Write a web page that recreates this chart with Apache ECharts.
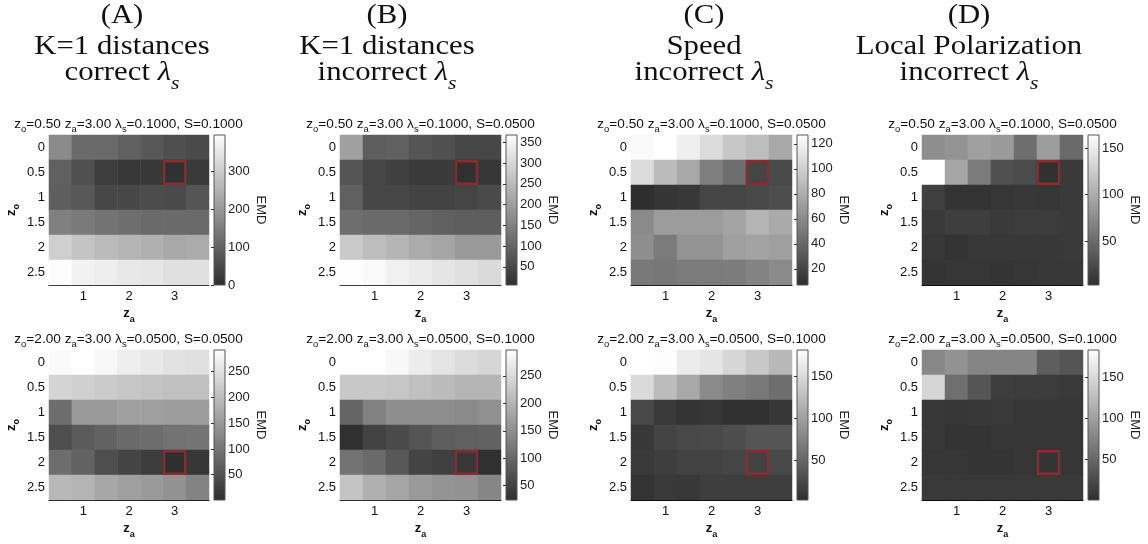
<!DOCTYPE html>
<html>
<head>
<meta charset="utf-8">
<script src="https://cdn.jsdelivr.net/npm/echarts@6/dist/echarts.min.js"></script>
<style>
  html, body { margin: 0; padding: 0; background: #ffffff; }
  #chart { width: 1148px; height: 544px; }
</style>
</head>
<body>
<div id="chart"></div>
<script>
// ---- axes of every EMD map ----
const zaValues = ['0.5', '1', '1.5', '2', '2.5', '3', '3.5'];   // columns
const zoValues = ['0', '0.5', '1', '1.5', '2', '2.5'];          // rows (top to bottom)

// ---- column headings ----
const headLetters = ['(A)', '(B)', '(C)', '(D)'];
const headNames = ['K=1 distances', 'K=1 distances', 'Speed', 'Local Polarization'];
const headLambda = ['correct', 'incorrect', 'incorrect', 'incorrect'];

// ---- true parameters of each row of maps ----
const zoTrue = ['0.50', '2.00'];
const zaTrue = '3.00';
const lambdaTop = ['0.1000', '0.1000', '0.1000', '0.1000'];
const sTop = ['0.1000', '0.0500', '0.0500', '0.0500'];
const lambdaBottom = ['0.0500', '0.0500', '0.0500', '0.0500'];
const sBottom = ['0.0500', '0.1000', '0.1000', '0.1000'];

// ---- EMD values, rows = z_o, columns = z_a ----
const emdA1 = [
  [174, 113, 113, 95, 79, 62, 53],
  [95, 64, 30, 19, 19, 6, 21],
  [91, 79, 47, 47, 57, 53, 74],
  [155, 144, 130, 121, 113, 113, 113],
  [304, 284, 265, 255, 246, 231, 236],
  [392, 370, 363, 352, 348, 336, 336]
];
const emdB1 = [
  [203, 89, 93, 74, 65, 49, 49],
  [74, 49, 37, 27, 27, 12, 20],
  [93, 49, 49, 41, 41, 46, 54],
  [117, 110, 110, 101, 93, 89, 89],
  [276, 254, 240, 222, 212, 193, 193],
  [366, 358, 342, 333, 323, 314, 304]
];
const emdC1 = [
  [124, 127, 118, 107, 95, 89, 77],
  [107, 88, 77, 53, 44, 20, 23],
  [7, 11, 13, 20, 20, 22, 25],
  [60, 70, 70, 70, 75, 84, 78],
  [62, 51, 65, 65, 72, 74, 72],
  [50, 49, 51, 51, 52, 56, 60]
];
const emdD1 = [
  [77, 81, 91, 86, 52, 88, 49],
  [164, 95, 62, 29, 25, 5, 12],
  [17, 7, 7, 9, 11, 9, 12],
  [12, 15, 15, 12, 14, 14, 12],
  [11, 7, 11, 11, 11, 11, 12],
  [8, 9, 9, 8, 9, 11, 11]
];
const emdA2 = [
  [285, 292, 282, 268, 260, 251, 249],
  [232, 226, 219, 212, 208, 204, 204],
  [89, 151, 151, 159, 159, 156, 156],
  [45, 64, 73, 84, 89, 95, 98],
  [89, 73, 45, 31, 20, 3, 14],
  [193, 187, 170, 159, 151, 140, 119]
];
const emdB2 = [
  [297, 297, 288, 272, 262, 251, 243],
  [225, 225, 223, 215, 208, 200, 200],
  [96, 132, 149, 149, 149, 144, 152],
  [27, 50, 61, 75, 87, 89, 92],
  [114, 102, 79, 53, 48, 37, 26],
  [220, 194, 179, 165, 157, 155, 139]
];
const emdC2 = [
  [182, 180, 166, 160, 147, 135, 121],
  [150, 124, 107, 81, 73, 67, 57],
  [24, 12, 6, 9, 4, 4, 9],
  [11, 21, 24, 26, 29, 36, 36],
  [12, 16, 19, 19, 22, 19, 24],
  [6, 12, 11, 16, 16, 16, 16]
];
const emdD2 = [
  [79, 88, 77, 77, 77, 43, 35],
  [146, 58, 35, 15, 13, 13, 11],
  [10, 8, 10, 11, 8, 8, 8],
  [10, 5, 6, 8, 8, 8, 8],
  [8, 8, 6, 6, 8, 6, 8],
  [11, 11, 11, 11, 11, 11, 11]
];

// ---- colour-bar ranges [min, max] and tick steps ----
const cbRangeTop = [[0, 395], [6, 368], [7, 127], [3, 164]];
const cbStepTop = [100, 50, 20, 50];
const cbRangeBottom = [[1, 292], [24, 297], [2, 182], [1, 183]];
const cbStepBottom = [50, 50, 50, 50];

// ---------------------------------------------------------------
const chart = echarts.init(document.getElementById('chart'), null, { renderer: 'canvas' });

const PLOT_LEFT = [48, 340, 631, 922];
const PLOT_TOP = [135, 350];
const PW = 161, PH = 150;
const CB_OFF = 166, CBW = 11;
const HEAD_X = [122, 387, 704, 969];

const SANS = '"Liberation Sans", Arial, Helvetica, sans-serif';
const SERIF = '"Liberation Serif", "Times New Roman", serif';
const GRAY_LOW = '#2e2e2e', GRAY_HIGH = '#ffffff';

const subRich = {
  sub: { fontSize: 9, lineHeight: 20, verticalAlign: 'bottom', fontFamily: SANS, color: '#111' }
};
const nameRich = {
  sub: { fontSize: 9, fontWeight: 'bold', lineHeight: 20, verticalAlign: 'bottom', fontFamily: SANS, color: '#111' }
};

const mapsTop = [emdA1, emdB1, emdC1, emdD1];
const mapsBottom = [emdA2, emdB2, emdC2, emdD2];

const grids = [], xAxes = [], yAxes = [], series = [], visualMaps = [], graphics = [];

function addPanel(col, row) {
  const emd = row === 0 ? mapsTop[col] : mapsBottom[col];
  const range = row === 0 ? cbRangeTop[col] : cbRangeBottom[col];
  const step = row === 0 ? cbStepTop[col] : cbStepBottom[col];
  const lam = row === 0 ? lambdaTop[col] : lambdaBottom[col];
  const s = row === 0 ? sTop[col] : sBottom[col];
  const left = PLOT_LEFT[col], top = PLOT_TOP[row];
  const gi = grids.length;

  // EMD map
  grids.push({ left: left, top: top, width: PW, height: PH });
  xAxes.push({
    gridIndex: gi, type: 'category', data: zaValues,
    axisLine: { show: true, lineStyle: { color: '#000', width: 1 } },
    axisTick: { show: false },
    splitLine: { show: false },
    axisLabel: {
      interval: (idx, val) => Number.isInteger(Number(val)),
      margin: 5, fontSize: 13, color: '#111', fontFamily: SANS
    },
    name: 'z{sub|a}', nameLocation: 'middle', nameGap: 12,
    nameTextStyle: { fontSize: 13, fontWeight: 'bold', color: '#111', fontFamily: SANS, lineHeight: 20, rich: nameRich }
  });
  yAxes.push({
    gridIndex: gi, type: 'category', data: zoValues, inverse: true,
    axisLine: { show: false }, axisTick: { show: false }, splitLine: { show: false },
    axisLabel: { margin: 4, fontSize: 13, color: '#111', fontFamily: SANS },
    name: 'z{sub|o}', nameLocation: 'middle', nameGap: 28, nameRotate: 90,
    nameTextStyle: { fontSize: 13, fontWeight: 'bold', color: '#111', fontFamily: SANS, lineHeight: 20, rich: nameRich }
  });
  const cells = [];
  emd.forEach((rowVals, r) => rowVals.forEach((v, c) => cells.push([c, r, v])));
  const heatIdx = series.length;
  series.push({
    type: 'heatmap', xAxisIndex: gi, yAxisIndex: gi, data: cells,
    itemStyle: { borderWidth: 0 }, emphasis: { disabled: true }, silent: true, z: 1
  });
  visualMaps.push({
    type: 'continuous', show: false, seriesIndex: heatIdx, dimension: 2,
    min: range[0], max: range[1], inRange: { color: [GRAY_LOW, GRAY_HIGH] }
  });
  // cell of the true parameters
  const zoIdx = zoValues.indexOf(String(parseFloat(zoTrue[row])));
  const zaIdx = zaValues.indexOf(String(parseFloat(zaTrue)));
  series.push({
    type: 'scatter', xAxisIndex: gi, yAxisIndex: gi, data: [[zaIdx, zoIdx]],
    symbol: 'rect', symbolSize: [21, 22.5], silent: true, z: 5,
    itemStyle: { color: 'rgba(0,0,0,0)', borderColor: '#862e2e', borderWidth: 2.3, opacity: 1 }
  });

  // colour bar
  const cb = grids.length;
  grids.push({
    left: left + CB_OFF, top: top, width: CBW, height: PH, show: true,
    backgroundColor: new echarts.graphic.LinearGradient(0, 1, 0, 0, [
      { offset: 0, color: GRAY_LOW }, { offset: 1, color: GRAY_HIGH }
    ]),
    borderColor: '#555', borderWidth: 1
  });
  xAxes.push({ gridIndex: cb, type: 'value', show: false, min: 0, max: 1 });
  yAxes.push({
    gridIndex: cb, type: 'value', position: 'right',
    min: range[0], max: range[1], minInterval: step, maxInterval: step,
    axisLine: { show: false },
    axisTick: { show: true, inside: true, length: 3, lineStyle: { color: '#333' } },
    splitLine: { show: false },
    axisLabel: {
      margin: 3, fontSize: 13, color: '#222', fontFamily: SANS,
      showMinLabel: range[0] % step === 0, showMaxLabel: range[1] % step === 0
    },
    name: 'EMD', nameLocation: 'middle', nameRotate: -90, nameGap: 20,
    nameTextStyle: { fontSize: 13, color: '#222', fontFamily: SANS }
  });

  // map title
  graphics.push({
    type: 'text', x: left + PW / 2, y: top - 11, scaleX: 1.05, silent: true,
    style: {
      text: 'z{sub|o}=' + zoTrue[row] + ' z{sub|a}=' + zaTrue + ' \u03bb{sub|s}=' + lam + ', S=' + s,
      fontSize: 13, fontFamily: SANS, fill: '#111', lineHeight: 20,
      align: 'center', verticalAlign: 'middle', rich: subRich
    }
  });
}

for (let row = 0; row < 2; row++) {
  for (let col = 0; col < 4; col++) addPanel(col, row);
}

// column headings
const headRich = {
  lam: { fontSize: 27, fontStyle: 'italic', fontFamily: SERIF, lineHeight: 40 },
  sub: { fontSize: 19, fontStyle: 'italic', fontFamily: SERIF, lineHeight: 40, verticalAlign: 'bottom' }
};
for (let col = 0; col < 4; col++) {
  const base = { fontSize: 27, fontFamily: SERIF, fill: '#111', align: 'center', verticalAlign: 'middle' };
  graphics.push({ type: 'text', x: HEAD_X[col], y: 16, scaleX: 1.14, silent: true,
    style: Object.assign({ text: headLetters[col] }, base) });
  graphics.push({ type: 'text', x: HEAD_X[col], y: 47, scaleX: 1.14, silent: true,
    style: Object.assign({ text: headNames[col] }, base) });
  graphics.push({ type: 'text', x: HEAD_X[col], y: 73, scaleX: 1.14, silent: true,
    style: Object.assign({ text: headLambda[col] + ' {lam|\u03bb}{sub|s}', lineHeight: 40, rich: headRich }, base) });
}

chart.setOption({
  backgroundColor: '#ffffff',
  animation: false,
  grid: grids,
  xAxis: xAxes,
  yAxis: yAxes,
  visualMap: visualMaps,
  series: series,
  graphic: { elements: graphics }
});
</script>
</body>
</html>
